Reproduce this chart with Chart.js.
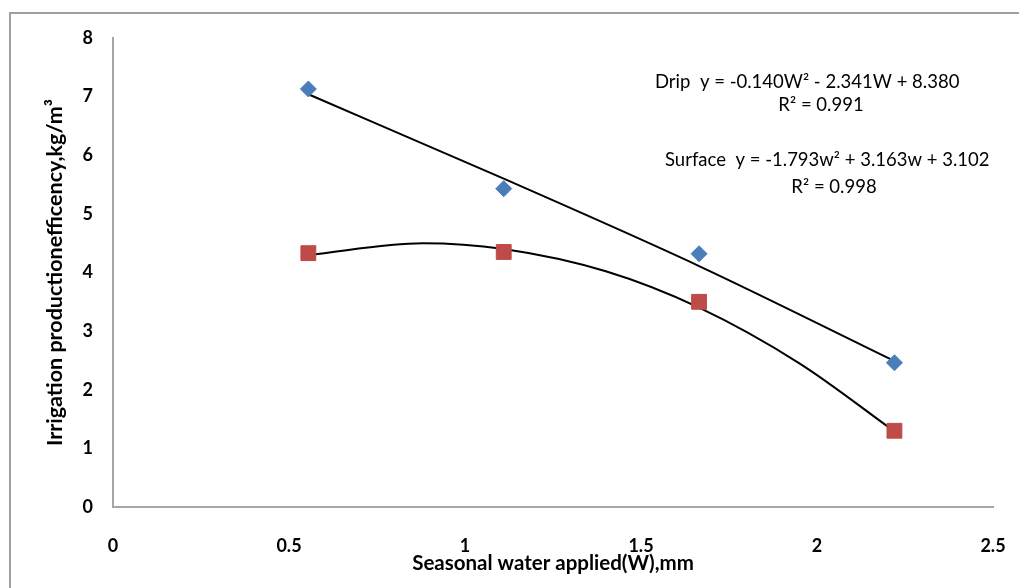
<!DOCTYPE html>
<html>
<head>
<meta charset="utf-8">
<script src="https://cdn.jsdelivr.net/npm/chart.js@4.4.1/dist/chart.umd.min.js"></script>
<style>
  html, body { margin: 0; padding: 0; background: #fff; }
  #wrap { width: 1019px; height: 588px; position: relative; }
</style>
</head>
<body>
<div id="wrap"><canvas id="chart"></canvas></div>
<script>
// Seasonal water applied (W), mm
const waterApplied = [0.555, 1.11, 1.665, 2.22];
// Irrigation production efficiency, kg/m3
const dripValues = [7.13, 5.43, 4.32, 2.46];
const surfaceValues = [4.33, 4.35, 3.50, 1.30];

// trend lines
const dripTrendX = [0.555, 1.11, 1.665, 2.22];
const dripTrendY = [7.04, 5.60, 4.11, 2.49];
const surfaceTrendX = [0.555, 0.88, 1.11, 1.4, 1.665, 1.95, 2.22];
const surfaceTrendY = [4.30, 4.50, 4.40, 4.02, 3.40, 2.45, 1.29];

const xTicks = [0, 0.5, 1, 1.5, 2, 2.5];
const yTicks = [0, 1, 2, 3, 4, 5, 6, 7, 8];

const equationLines = [
    'Drip  y = -0.140W² - 2.341W + 8.380',
    'R² = 0.991',
    'Surface  y = -1.793w² + 3.163w + 3.102',
    'R² = 0.998'
];

const FONT = 'Lato, "Open Sans", sans-serif';
const AXIS_GREY = '#a6a6a6';

const toPoints = (xs, ys) => xs.map((x, i) => ({ x: x, y: ys[i] }));

// frame + white background
const framePlugin = {
    id: 'frame',
    beforeDraw(chart) {
        const c = chart.ctx;
        c.save();
        c.fillStyle = '#fff';
        c.fillRect(0, 0, chart.width, chart.height);
        c.strokeStyle = '#a0a0a0';
        c.lineWidth = 2;
        c.beginPath();
        c.moveTo(10, chart.height + 5);
        c.lineTo(10, 13);
        c.lineTo(chart.width + 5, 13);
        c.stroke();
        c.restore();
    }
};

// trendline equations
const equationPlugin = {
    id: 'equations',
    afterDraw(chart) {
        const c = chart.ctx;
        c.save();
        c.fillStyle = '#000';
        c.font = '18.5px ' + FONT;
        c.textBaseline = 'middle';
        c.textAlign = 'left';
        c.fillText(equationLines[0], 655, 82);
        c.textAlign = 'center';
        c.fillText(equationLines[1], 821, 105);
        c.textAlign = 'left';
        c.fillText(equationLines[2], 665, 160);
        c.textAlign = 'center';
        c.fillText(equationLines[3], 834, 187);
        c.restore();
    }
};

new Chart(document.getElementById('chart'), {
    type: 'scatter',
    data: {
        datasets: [
            {
                label: 'Drip trend',
                type: 'line',
                data: toPoints(dripTrendX, dripTrendY),
                borderColor: '#000',
                borderWidth: 2,
                pointRadius: 0,
                fill: false,
                cubicInterpolationMode: 'monotone',
                order: 2
            },
            {
                label: 'Surface trend',
                type: 'line',
                data: toPoints(surfaceTrendX, surfaceTrendY),
                borderColor: '#000',
                borderWidth: 2,
                pointRadius: 0,
                fill: false,
                cubicInterpolationMode: 'monotone',
                order: 2
            },
            {
                label: 'Drip',
                data: toPoints(waterApplied, dripValues),
                pointStyle: 'rectRot',
                pointRadius: 8,
                backgroundColor: '#4a7ebb',
                borderColor: '#4a7ebb',
                borderWidth: 1,
                order: 1
            },
            {
                label: 'Surface',
                data: toPoints(waterApplied, surfaceValues),
                pointStyle: 'rect',
                pointRadius: 10.5,
                backgroundColor: '#be4b48',
                borderColor: '#be4b48',
                borderWidth: 1,
                order: 1
            }
        ]
    },
    options: {
        responsive: true,
        maintainAspectRatio: false,
        animation: false,
        layout: { padding: { top: 38, right: 26, left: 0, bottom: 0 } },
        plugins: {
            legend: { display: false },
            tooltip: { enabled: false }
        },
        scales: {
            x: {
                type: 'linear',
                min: 0,
                max: 2.5,
                afterFit(scale) {
                    scale.height = 81;
                    scale.paddingLeft = 0;
                    scale.paddingRight = 0;
                },
                afterBuildTicks(scale) { scale.ticks = xTicks.map(v => ({ value: v })); },
                grid: { display: false, drawTicks: false },
                border: { color: AXIS_GREY, width: 2 },
                ticks: {
                    padding: 28,
                    color: '#000',
                    font: { family: FONT, size: 18, weight: 'bold' },
                    callback: v => String(v)
                },
                title: {
                    display: true,
                    text: 'Seasonal water applied(W),mm',
                    color: '#000',
                    font: { family: FONT, size: 20.5, weight: 'bold' },
                    padding: { top: 0, bottom: 12 }
                }
            },
            y: {
                type: 'linear',
                min: 0,
                max: 8,
                afterFit(scale) { scale.width = 113; },
                afterBuildTicks(scale) { scale.ticks = yTicks.map(v => ({ value: v })); },
                grid: { display: false, drawTicks: false },
                border: { color: AXIS_GREY, width: 2 },
                ticks: {
                    padding: 20,
                    color: '#000',
                    font: { family: FONT, size: 18, weight: 'bold' },
                    callback: v => String(v)
                },
                title: {
                    display: true,
                    text: 'Irrigation productionefficency,kg/m³',
                    color: '#000',
                    font: { family: FONT, size: 21.5, weight: 'bold' },
                    padding: { top: 42, bottom: 0 }
                }
            }
        }
    },
    plugins: [framePlugin, equationPlugin]
});
</script>
</body>
</html>
